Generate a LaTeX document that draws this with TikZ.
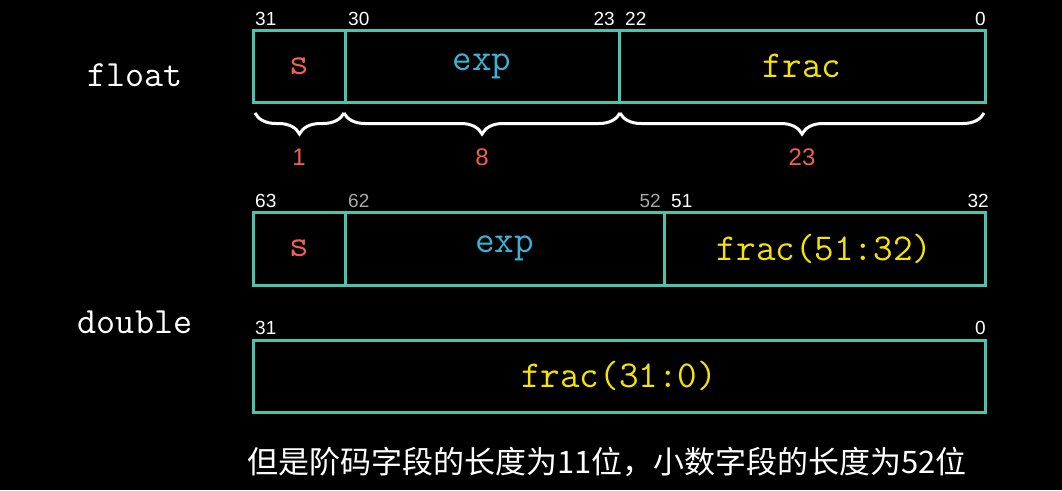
\documentclass[tikz,border=0pt]{standalone}
\usepackage{fontspec}
\setmainfont{Liberation Sans}
\newfontfamily\cjk{Noto Sans CJK SC}
\usetikzlibrary{decorations.pathreplacing}
\definecolor{teal2}{HTML}{4EC3AC}
\definecolor{fblue}{HTML}{3DB0D3}
\definecolor{fyel}{HTML}{F5E400}
\definecolor{fred}{HTML}{F0604E}
\definecolor{fgray}{HTML}{A8A8A8}
\tikzset{
  seg/.style={draw=teal2, line width=3pt, inner sep=0pt, anchor=center, font=\ttfamily\fontsize{38}{38}\selectfont},
  bitno/.style={text=white, inner sep=0pt, font=\fontsize{19}{19}\selectfont},
  bitgray/.style={bitno, text=fgray},
  lenno/.style={text=fred, inner sep=0pt, font=\fontsize{24}{24}\selectfont},
  typelbl/.style={text=white, inner sep=0pt, font=\ttfamily\fontsize{37}{37}\selectfont},
  bracestyle/.style={draw=white, line width=3pt, decorate, decoration={brace, mirror, amplitude=21pt}},
}
\begin{document}
\begin{tikzpicture}[x=1pt, y=-1pt]
\fill[black] (0,0) rectangle (1062,490);
\useasboundingbox (0,0) rectangle (1062,490);
% float
\node[seg, minimum width=92pt, minimum height=72pt, text=fred] (fs) at (299,66) {s};
\node[seg, minimum width=274pt, minimum height=72pt, text=fblue] (fe) at (482,66) {exp};
\node[seg, minimum width=366pt, minimum height=72pt, text=fyel] (ff) at (802,66) {frac};
\node[bitno, anchor=base west] (b31) at (255,25) {31};
\node[bitno, anchor=base west] (b30) at (348,25) {30};
\node[bitno, anchor=base east] (b23) at (615,25) {23};
\node[bitno, anchor=base west] (b22) at (625,25) {22};
\node[bitno, anchor=base east] (b0) at (986,25) {0};
\node[typelbl] (flt) at (135,75) {float};
% braces
\coordinate (br0) at (255,113);
\coordinate (br1) at (344,113);
\coordinate (br2) at (620,113);
\coordinate (br3) at (984,113);
\draw[bracestyle] (br0) -- (br1);
\draw[bracestyle] (br1) -- (br2);
\draw[bracestyle] (br2) -- (br3);
\node[lenno, anchor=base] (l1) at (299,165) {1};
\node[lenno, anchor=base] (l8) at (482,165) {8};
\node[lenno, anchor=base] (l23) at (802,165) {23};
% double row 1
\node[seg, minimum width=92pt, minimum height=73pt, text=fred] (ds) at (299,248.5) {s};
\node[seg, minimum width=319pt, minimum height=73pt, text=fblue] (de) at (504.5,248.5) {exp};
\node[seg, minimum width=321pt, minimum height=73pt, text=fyel] (df) at (824.5,248.5) {frac(51:32)};
\node[bitno, anchor=base west] (b63) at (255,207) {63};
\node[bitgray, anchor=base west] (b62) at (348,207) {62};
\node[bitgray, anchor=base east] (b52) at (661,207) {52};
\node[bitno, anchor=base west] (b51) at (671,207) {51};
\node[bitno, anchor=base east] (b32) at (989,207) {32};
\node[typelbl] (dbl) at (135,322) {double};
% double row 2
\node[seg, minimum width=732pt, minimum height=72pt, text=fyel] (dl) at (619,376) {frac(31:0)};
\node[bitno, anchor=base west] (c31) at (255,334) {31};
\node[bitno, anchor=base east] (c0) at (986,334) {0};
% caption
\node[text=white, inner sep=0pt, font=\cjk\fontsize{31}{31}\selectfont] (cap) at (607,462) {但是阶码字段的长度为11位，小数字段的长度为52位};
\end{tikzpicture}
\end{document}
